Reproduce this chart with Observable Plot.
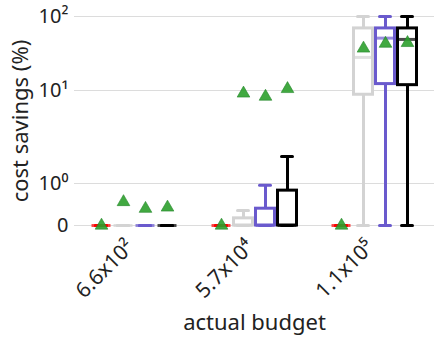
<!DOCTYPE html>
<html><head><meta charset="utf-8">
<script src="https://cdn.jsdelivr.net/npm/d3@7"></script>
<script src="https://cdn.jsdelivr.net/npm/@observablehq/plot@0.6"></script>
<style>
body{margin:0;background:#fff;}
svg{font-family:"Noto Sans",sans-serif;}
</style>
</head><body><div id="chart"></div>
<script>
// categories
const groups = ["6.6x10²", "5.7x10⁴", "1.1x10⁵"];
const seriesNames = ["S1", "S2", "S3", "S4"];
const seriesColors = ["#ff0000", "#d3d3d3", "#6a5acd", "#000000"];
// y tick values and labels
const yTicks = [0, 1, 10, 100];
const yTickLabels = ["0", "10⁰", "10¹", "10²"];
// box statistics, indexed [series][group]
const mins    = [[0, 0, 0], [0, 0, 0],    [0, 0, 0],    [0, 0, 0]];
const q1s     = [[0, 0, 0], [0, 0, 9.0],  [0, 0, 12.2], [0, 0, 11.8]];
const medians = [[0, 0, 0], [0, 0, 28],   [0, 0, 51],   [0, 0, 49]];
const q3s     = [[0, 0, 0], [0, 0.17, 69], [0, 0.40, 69], [0, 0.83, 69]];
const maxs    = [[0, 0, 0], [0, 0.36, 100], [0, 0.96, 100], [0, 1.95, 100]];
const means   = [[0, 0, 0], [0.56, 9.3, 37], [0.40, 8.6, 43], [0.43, 10.5, 44]];

// custom symmetric-log-like scale: fractional positions of the tick values
const tickFrac = [0, 0.201, 0.646, 1];
function yt(v) {
  if (v <= 1) return v * tickFrac[1];
  if (v <= 10) return tickFrac[1] + (tickFrac[2] - tickFrac[1]) * Math.log10(v);
  return tickFrac[2] + (tickFrac[3] - tickFrac[2]) * Math.log10(v / 10);
}

const rows = [];
seriesNames.forEach((s, i) => groups.forEach((g, j) => rows.push({
  group: g, series: s, color: seriesColors[i],
  min: mins[i][j], q1: q1s[i][j], med: medians[i][j], q3: q3s[i][j], max: maxs[i][j], mean: means[i][j]
})));

const chart = Plot.plot({
  width: 440, height: 345,
  marginLeft: 73, marginRight: 5, marginTop: 16, marginBottom: 120,
  style: {fontFamily: "Noto Sans, sans-serif", fontSize: "20px", color: "#222"},
  fx: {domain: groups, padding: 0},
  x: {domain: seriesNames, paddingInner: 0, paddingOuter: 0.68, axis: null},
  y: {domain: [yt(0), yt(100)]},
  color: {type: "identity"},
  marks: [
    Plot.gridY(yTicks.map(yt), {stroke: "#dcdcdc", strokeOpacity: 1, strokeWidth: 1.2}),
    Plot.ruleX(rows, {fx: "group", x: "series", y1: d => yt(d.min), y2: d => yt(d.q1), stroke: "color", strokeWidth: 3}),
    Plot.ruleX(rows, {fx: "group", x: "series", y1: d => yt(d.q3), y2: d => yt(d.max), stroke: "color", strokeWidth: 3}),
    Plot.barY(rows, {fx: "group", x: "series", y1: d => yt(d.q1), y2: d => yt(d.q3), fill: "white", stroke: "color", strokeWidth: 3, insetLeft: 1.5, insetRight: 1.5}),
    Plot.tickY(rows, {fx: "group", x: "series", y: d => yt(d.med), stroke: "color", strokeOpacity: 0.7, strokeWidth: 3, insetLeft: 1.5, insetRight: 1.5}),
    Plot.tickY(rows, {fx: "group", x: "series", y: d => yt(d.min), stroke: "color", strokeWidth: 3, strokeLinecap: "round", insetLeft: 5.5, insetRight: 5.5}),
    Plot.tickY(rows, {fx: "group", x: "series", y: d => yt(d.max), stroke: "color", strokeWidth: 3, strokeLinecap: "round", insetLeft: 5.5, insetRight: 5.5}),
    Plot.dot(rows, {fx: "group", x: "series", y: d => yt(d.mean), symbol: "triangle", r: 4.7, fill: "#2ca02c", fillOpacity: 0.9, stroke: "#23862a", strokeWidth: 0.6}),
    Plot.axisY({
      ticks: yTicks.map(yt),
      tickFormat: d => yTickLabels[yTicks.findIndex(t => Math.abs(yt(t) - d) < 1e-9)],
      tickSize: 0, tickPadding: 6, fontSize: 20,
      label: "cost savings (%)", labelAnchor: "center", labelArrow: "none", labelOffset: 62
    }),
    Plot.axisFx({
      anchor: "bottom",
      tickRotate: -45, tickSize: 0, tickPadding: 18, dx: -4, fontSize: 21,
      label: null
    }),
    Plot.axisFx({
      anchor: "bottom", ticks: [], tickSize: 0,
      label: "actual budget", labelAnchor: "center", labelOffset: 104
    })
  ]
});
d3.select(chart).selectAll('g[aria-label="y-axis label"] text, g[aria-label="fx-axis label"] text')
  .style("font-size", "22px");
document.getElementById("chart").appendChild(chart);
</script>
</body></html>
